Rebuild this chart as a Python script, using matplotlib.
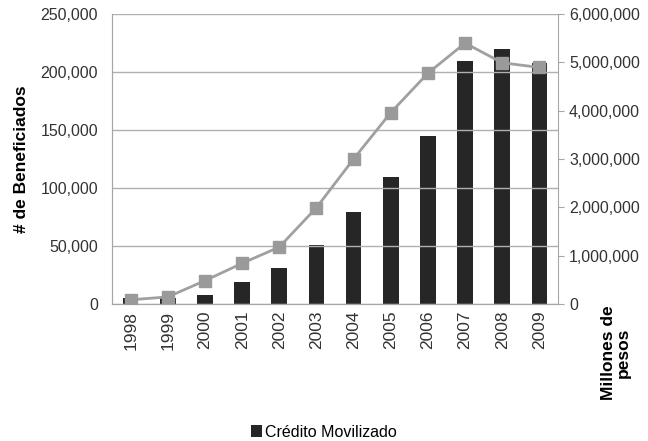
import matplotlib.pyplot as plt
import matplotlib.ticker as mticker
import numpy as np

plt.rcParams['font.family'] = ['Liberation Sans', 'DejaVu Sans']

anios = ['1998', '1999', '2000', '2001', '2002', '2003', '2004', '2005', '2006', '2007', '2008', '2009']
# Credito movilizado (eje derecho)
credito = [120000, 130000, 190000, 455000, 745000, 1220000, 1900000, 2630000, 3480000, 5030000, 5280000, 4990000]
# Numero de beneficiados (eje izquierdo)
beneficiados = [3500, 6000, 20000, 35000, 49000, 83000, 125000, 165000, 199000, 225000, 208000, 204000]

fig = plt.figure(figsize=(6.48, 4.41), dpi=100)
ax = fig.add_axes([0.173, 0.311, 0.688, 0.657])
ax2 = ax.twinx()

x = np.arange(len(anios))
gris = '#a6a6a6'

barras = ax2.bar(x, credito, width=0.42, color='#262626', label='Crédito Movilizado', zorder=2)
ax.plot(x, beneficiados, color='#a0a0a0', lw=2, marker='s', ms=8,
        markerfacecolor='#9a9a9a', markeredgecolor='#9a9a9a', zorder=5)

# la linea va encima de las barras
ax.set_zorder(ax2.get_zorder() + 1)
ax.patch.set_visible(False)

ax.set_xlim(-0.5, len(anios) - 0.5)
ax.set_ylim(0, 250000)
ax2.set_ylim(0, 6000000)
ax.set_yticks(np.arange(0, 250001, 50000))
ax2.set_yticks(np.arange(0, 6000001, 1000000))
fmt = mticker.FuncFormatter(lambda v, p: f'{int(v):,}')
ax.yaxis.set_major_formatter(fmt)
ax2.yaxis.set_major_formatter(fmt)

ax.set_xticks(x)
ax.set_xticklabels(anios, rotation=90, fontsize=12.5, color='#333333')
ax.tick_params(axis='x', length=0, pad=5)
ax.tick_params(axis='y', length=0, labelsize=11.5, labelcolor='#333333', pad=10)
ax2.tick_params(axis='y', length=4, color=gris, labelsize=11.5, labelcolor='#333333', pad=4)

ax.grid(axis='y', color='#b0b0b0', lw=1)
ax.set_axisbelow(True)

for a in (ax, ax2):
    a.spines['top'].set_visible(False)
    a.spines['left'].set_color(gris)
    a.spines['right'].set_color(gris)
    a.spines['bottom'].set_color(gris)
ax.spines['right'].set_visible(False)

fig.text(0.033, 0.64, '# de Beneficiados', rotation=90, fontsize=12.5, fontweight='bold',
         ha='center', va='center')
fig.text(0.95, 0.20, 'Millones de\npesos', rotation=90, fontsize=12.5, fontweight='bold',
         ha='center', va='center', multialignment='center', linespacing=1.0)

fig.legend(handles=[barras], loc='center', bbox_to_anchor=(0.5, 0.02), frameon=False,
           fontsize=11.5, handlelength=0.7, handleheight=0.7, handletextpad=0.2)

fig.savefig('out.png', dpi=100)
